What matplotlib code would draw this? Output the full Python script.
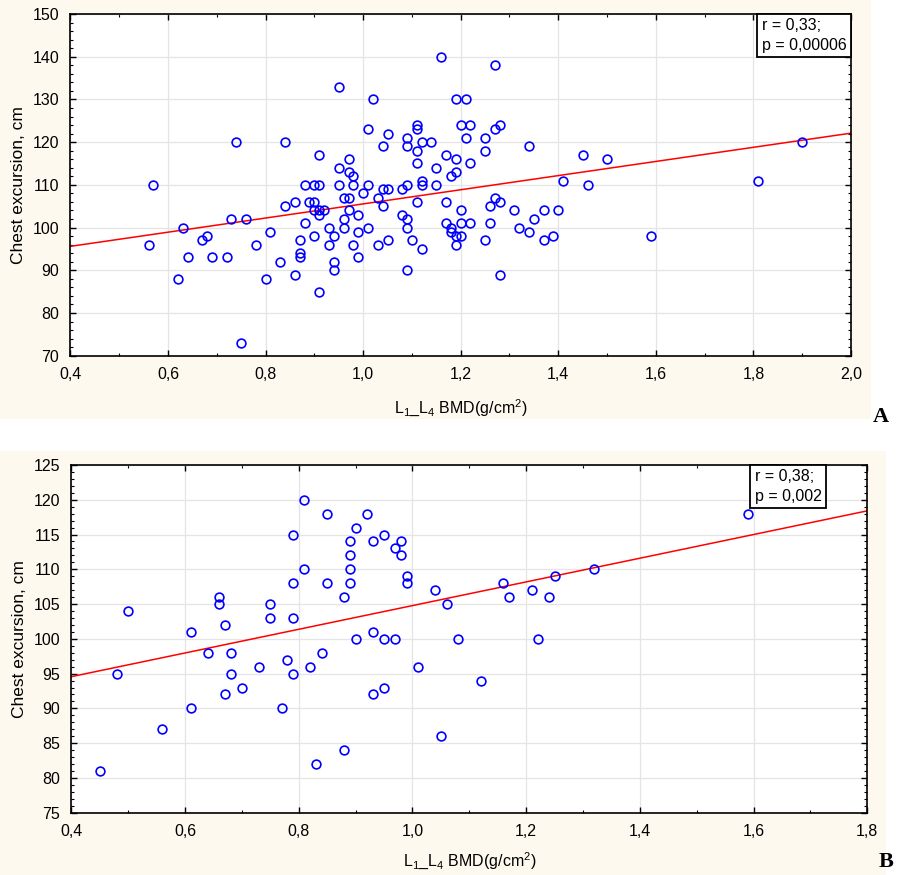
import matplotlib
matplotlib.use('Agg')
import matplotlib.pyplot as plt
from matplotlib.patches import Rectangle
from matplotlib.offsetbox import AnchoredText
from matplotlib.ticker import MultipleLocator, FuncFormatter
import numpy as np

plt.rcParams['font.family'] = ['Liberation Sans', 'DejaVu Sans']
plt.rcParams['mathtext.fontset'] = 'custom'
plt.rcParams['mathtext.rm'] = 'Liberation Sans'
plt.rcParams['mathtext.it'] = 'Liberation Sans'

# panel A: L1-L4 BMD vs chest excursion
bmd_a = [0.56, 0.57, 0.62, 0.63, 0.64, 0.67, 0.68, 0.69, 0.72, 0.73, 0.74, 0.75, 0.76, 0.78, 0.80,
         0.81, 0.83, 0.84, 0.84, 0.86, 0.86, 0.87, 0.87, 0.87, 0.88, 0.88, 0.89, 0.90, 0.90, 0.90,
         0.90, 0.91, 0.91, 0.91, 0.91, 0.91, 0.92, 0.93, 0.93, 0.94, 0.94, 0.94, 0.95, 0.95, 0.95,
         0.96, 0.96, 0.96, 0.97, 0.97, 0.97, 0.97, 0.98, 0.98, 0.98, 0.99, 0.99, 0.99, 1.00, 1.01,
         1.01, 1.01, 1.02, 1.03, 1.03, 1.04, 1.04, 1.04, 1.05, 1.05, 1.05, 1.08, 1.08, 1.09, 1.09,
         1.09, 1.09, 1.09, 1.09, 1.10, 1.11, 1.11, 1.11, 1.11, 1.11, 1.12, 1.12, 1.12, 1.12, 1.14,
         1.15, 1.15, 1.16, 1.17, 1.17, 1.17, 1.18, 1.18, 1.18, 1.19, 1.19, 1.19, 1.19, 1.19, 1.20,
         1.20, 1.20, 1.20, 1.21, 1.21, 1.22, 1.22, 1.22, 1.25, 1.25, 1.25, 1.26, 1.26, 1.27, 1.27,
         1.27, 1.28, 1.28, 1.28, 1.31, 1.32, 1.34, 1.34, 1.35, 1.37, 1.37, 1.39, 1.40, 1.41, 1.45,
         1.46, 1.50, 1.59, 1.81, 1.90]
chest_a = [96, 110, 88, 100, 93, 97, 98, 93, 93, 102, 120, 73, 102, 96, 88,
           99, 92, 120, 105, 106, 89, 97, 94, 93, 101, 110, 106, 110, 106, 104,
           98, 117, 110, 104, 103, 85, 104, 100, 96, 98, 92, 90, 133, 114, 110,
           107, 102, 100, 116, 113, 107, 104, 112, 110, 96, 103, 99, 93, 108, 123,
           110, 100, 130, 107, 96, 119, 109, 105, 122, 109, 97, 109, 103, 121, 119,
           110, 102, 100, 90, 97, 124, 123, 118, 115, 106, 120, 111, 110, 95, 120,
           114, 110, 140, 117, 106, 101, 112, 100, 99, 130, 116, 113, 98, 96, 124,
           104, 101, 98, 130, 121, 124, 115, 101, 121, 118, 97, 105, 101, 138, 123,
           107, 124, 106, 89, 104, 100, 119, 99, 102, 104, 97, 98, 104, 111, 117,
           110, 116, 98, 111, 120]
fit_a = (88.98, 16.56)   # intercept, slope
stats_a = 'r = 0,33;\np = 0,00006'

# panel B
bmd_b = [0.45, 0.48, 0.50, 0.56, 0.61, 0.61, 0.64, 0.66, 0.66, 0.67, 0.67, 0.68, 0.68, 0.70, 0.73,
         0.75, 0.75, 0.77, 0.78, 0.79, 0.79, 0.79, 0.79, 0.81, 0.81, 0.82, 0.83, 0.84, 0.85, 0.85,
         0.88, 0.88, 0.89, 0.89, 0.89, 0.89, 0.90, 0.90, 0.92, 0.93, 0.93, 0.93, 0.95, 0.95, 0.95,
         0.97, 0.97, 0.98, 0.98, 0.99, 0.99, 1.01, 1.04, 1.05, 1.06, 1.08, 1.12, 1.16, 1.17, 1.21,
         1.22, 1.24, 1.25, 1.32, 1.59]
chest_b = [81, 95, 104, 87, 101, 90, 98, 106, 105, 102, 92, 98, 95, 93, 96,
           105, 103, 90, 97, 115, 108, 103, 95, 120, 110, 96, 82, 98, 118, 108,
           106, 84, 114, 112, 110, 108, 116, 100, 118, 114, 101, 92, 115, 100, 93,
           113, 100, 114, 112, 109, 108, 96, 107, 86, 105, 100, 94, 108, 106, 107,
           100, 106, 109, 110, 118]
fit_b = (87.75, 17.03)
stats_b = 'r = 0,38;\np = 0,002'

xlabel = r'L$_1$_L$_4$ BMD(g/cm$^2$)'
ylabel = 'Chest excursion, cm'
cream = '#fdf9ee'

fig = plt.figure(figsize=(9, 8.75), dpi=100, facecolor='white')
fig.patches.append(Rectangle((0, 0.5211), 0.9678, 0.4789, transform=fig.transFigure,
                             facecolor=cream, edgecolor='none', zorder=-10))
fig.patches.append(Rectangle((0, 0), 0.9841, 0.4846, transform=fig.transFigure,
                             facecolor=cream, edgecolor='none', zorder=-10))

comma = FuncFormatter(lambda v, p: f'{v:.1f}'.replace('.', ','))


def panel(rect, x, y, fit, xlim, ylim, ymaj, ymin, stats, stats_anchor, xpad):
    ax = fig.add_axes(rect)
    ax.set_facecolor('white')
    ax.plot(x, y, 'o', mfc='none', mec='#0000ff', ms=6.3, mew=1.2, zorder=3, clip_on=False)
    xs = np.array(xlim)
    ax.plot(xs, fit[0] + fit[1] * xs, color='#ff0000', lw=1.1, zorder=2)
    ax.set_xlim(*xlim)
    ax.set_ylim(*ylim)
    ax.xaxis.set_major_locator(MultipleLocator(0.2))
    ax.xaxis.set_minor_locator(MultipleLocator(0.1))
    ax.yaxis.set_major_locator(MultipleLocator(ymaj))
    ax.yaxis.set_minor_locator(MultipleLocator(ymin))
    ax.xaxis.set_major_formatter(comma)
    ax.grid(True, which='major', color='#e4e4e4', lw=0.9, zorder=0)
    ax.tick_params(which='both', direction='in', top=True, right=True, color='black',
                   labelsize=11.5, pad=8)
    ax.tick_params(which='major', length=4, width=1)
    ax.tick_params(which='minor', length=2.5, width=0.8)
    for s in ax.spines.values():
        s.set_linewidth(1.2)
    ax.set_xlabel(xlabel, fontsize=11.5, labelpad=xpad)
    ax.set_ylabel(ylabel, fontsize=12.5, labelpad=5)
    box = AnchoredText(stats, loc='upper right', bbox_to_anchor=stats_anchor,
                       bbox_transform=ax.transAxes, borderpad=0, pad=0.28,
                       prop=dict(size=11.5, linespacing=1.35))
    box.patch.set_boxstyle('square,pad=0')
    box.patch.set_linewidth(1.3)
    box.zorder = 5
    ax.add_artist(box)
    return ax


panel([0.0783, 0.5935, 0.8672, 0.3905], bmd_a, chest_a, fit_a, (0.4, 2.0), (70, 150),
      10, 2, stats_a, (1.0, 1.0), 11)
panel([0.0793, 0.0712, 0.8843, 0.3974], bmd_b, chest_b, fit_b, (0.4, 1.8), (75, 125),
      5, 1, stats_b, (0.948, 1.0), 8)

fig.text(0.979, 0.523, 'A', family='Liberation Serif', weight='bold', fontsize=16,
         ha='center', va='center')
fig.text(0.985, 0.015, 'B', family='Liberation Serif', weight='bold', fontsize=16,
         ha='center', va='center')

fig.savefig('out.png', dpi=100, facecolor='white')
